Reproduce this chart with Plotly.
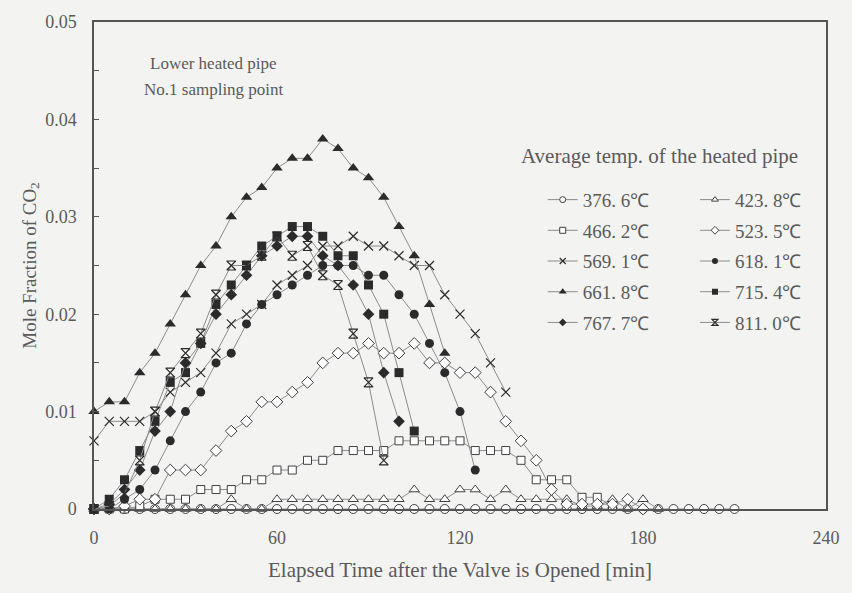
import plotly.graph_objects as go

# Sampling interval of the gas analyser [min]
STEP_MIN = 5

# Mole fraction of CO2 at the No.1 sampling point, one value every 5 min from t = 0
co2_376 = [0, 0, 0, 0, 0, 0, 0, 0, 0, 0, 0, 0, 0, 0, 0, 0, 0, 0, 0, 0, 0, 0,
           0, 0, 0, 0, 0, 0, 0, 0, 0, 0, 0, 0, 0, 0, 0, 0, 0, 0, 0, 0, 0]
co2_423 = [0, 0, 0, 0, 0, 0, 0, 0, 0, 0.001, 0, 0, 0.001, 0.001, 0.001, 0.001,
           0.001, 0.001, 0.001, 0.001, 0.001, 0.002, 0.001, 0.001, 0.002, 0.002,
           0.001, 0.002, 0.001, 0.001, 0.001, 0.001, 0.0003, 0.0003, 0.001, 0,
           0.001, 0]
co2_466 = [0, 0, 0, 0.0003, 0.001, 0.001, 0.001, 0.002, 0.002, 0.002, 0.003,
           0.003, 0.004, 0.004, 0.005, 0.005, 0.006, 0.006, 0.006, 0.006, 0.007,
           0.007, 0.007, 0.007, 0.007, 0.006, 0.006, 0.006, 0.005, 0.003, 0.003,
           0.003, 0.0012, 0.0012, 0.0003]
co2_523 = [0, 0, 0.0003, 0.001, 0.001, 0.004, 0.004, 0.004, 0.006, 0.008, 0.009,
           0.011, 0.011, 0.012, 0.013, 0.015, 0.016, 0.016, 0.017, 0.016, 0.016,
           0.017, 0.015, 0.015, 0.014, 0.014, 0.012, 0.009, 0.007, 0.005, 0.002,
           0.0005, 0.0005, 0.0005, 0.0005, 0.001, 0]
co2_569 = [0.007, 0.009, 0.009, 0.009, 0.010, 0.012, 0.013, 0.014, 0.016, 0.019,
           0.020, 0.021, 0.023, 0.024, 0.025, 0.027, 0.027, 0.028, 0.027, 0.027,
           0.026, 0.025, 0.025, 0.022, 0.020, 0.018, 0.015, 0.012]
co2_618 = [0, 0, 0.001, 0.002, 0.004, 0.007, 0.010, 0.012, 0.015, 0.016, 0.019,
           0.021, 0.022, 0.023, 0.024, 0.025, 0.025, 0.025, 0.024, 0.024, 0.022,
           0.020, 0.017, 0.014, 0.010, 0.004]
co2_661 = [0.010, 0.011, 0.011, 0.014, 0.016, 0.019, 0.022, 0.025, 0.027, 0.030,
           0.032, 0.033, 0.035, 0.036, 0.036, 0.038, 0.037, 0.035, 0.034, 0.032,
           0.029, 0.026, 0.021, 0.016]
co2_715 = [0, 0.001, 0.003, 0.006, 0.009, 0.013, 0.014, 0.017, 0.021, 0.023,
           0.025, 0.027, 0.028, 0.029, 0.029, 0.028, 0.026, 0.026, 0.023, 0.020,
           0.014, 0.008]
co2_767 = [0, 0.0005, 0.002, 0.004, 0.008, 0.010, 0.015, 0.017, 0.020, 0.022,
           0.024, 0.026, 0.027, 0.028, 0.028, 0.026, 0.025, 0.023, 0.020, 0.014,
           0.009]
co2_811 = [0, 0.0003, 0.0016, 0.005, 0.010, 0.014, 0.016, 0.018, 0.022, 0.025,
           0.025, 0.026, 0.028, 0.026, 0.027, 0.024, 0.023, 0.018, 0.013, 0.005]

temp_labels = ["376. 6℃", "423. 8℃", "466. 2℃", "523. 5℃", "569. 1℃",
               "618. 1℃", "661. 8℃", "715. 4℃", "767. 7℃", "811. 0℃"]
x_ticks = [0, 60, 120, 180, 240]

BG = "#f3f3f1"
INK = "#2b2b2b"
LINE = "#8c8c8c"
TXT = "#5a5a5a"
SERIF = "Liberation Serif"

# (values, marker symbol, filled?, marker size, legend column)
styles = [
    (co2_376, "circle", False, 9, "legend"),
    (co2_423, "triangle-up", False, 9, "legend2"),
    (co2_466, "square", False, 8, "legend"),
    (co2_523, "diamond", False, 9, "legend2"),
    (co2_569, "x-thin-open", None, 9, "legend"),
    (co2_618, "circle", True, 9, "legend2"),
    (co2_661, "triangle-up", True, 10, "legend"),
    (co2_715, "square", True, 9, "legend2"),
    (co2_767, "diamond", True, 9, "legend"),
    (co2_811, "hourglass-open", None, 9, "legend2"),
]


def marker_style(sym, filled, size):
    if filled is None:
        return dict(symbol=sym, size=size, color=INK, line=dict(color=INK, width=1.2))
    if filled:
        return dict(symbol=sym, size=size, color=INK, line=dict(color=INK, width=0))
    return dict(symbol=sym, size=size, color="white", line=dict(color="#404040", width=1))


fig = go.Figure()
for name, (vals, sym, filled, size, leg) in zip(temp_labels, styles):
    times = [i * STEP_MIN for i in range(len(vals))]
    fig.add_trace(go.Scatter(
        x=times, y=vals, name=name, mode="lines+markers",
        line=dict(color=LINE, width=1), marker=marker_style(sym, filled, size),
        legendgroup=name, showlegend=False, cliponaxis=False,
    ))
    # legend key with a smaller symbol, as in the printed key
    fig.add_trace(go.Scatter(
        x=[None], y=[None], name=name, mode="lines+markers",
        line=dict(color=LINE, width=1), marker=marker_style(sym, filled, max(size - 3, 6)),
        legend=leg, legendgroup=name, showlegend=True,
    ))

legend_common = dict(
    font=dict(family=SERIF, size=19, color=TXT),
    bgcolor="rgba(0,0,0,0)", borderwidth=0, tracegroupgap=3,
    xanchor="left", yanchor="top", itemwidth=30,
)

W, H = 852, 593
L, R, T, B = 94, 18, 19, 84
pw, ph = W - L - R, H - T - B


def page_note(text, px, py, size):
    return dict(text=text, xref="paper", yref="paper",
                x=(px - L) / pw, y=1 - (py - T) / ph,
                xanchor="center", yanchor="middle", showarrow=False,
                font=dict(family=SERIF, size=size, color=TXT))


fig.update_layout(
    width=W, height=H,
    margin=dict(l=L, r=R, t=T, b=B),
    paper_bgcolor=BG, plot_bgcolor=BG,
    font=dict(family=SERIF, color=TXT),
    legend=dict(x=0.613, y=0.674, **legend_common),
    legend2=dict(x=0.821, y=0.674, **legend_common),
    xaxis=dict(
        range=[0, 240], tickvals=x_ticks, showgrid=False, zeroline=False,
        showline=True, mirror=True, linecolor="#555", linewidth=1.5,
        ticks="", tickfont=dict(family=SERIF, size=18, color=TXT),
        ticklabelstandoff=12,
        title=dict(text="Elapsed Time after the Valve is Opened [min]",
                   font=dict(family=SERIF, size=21, color=TXT), standoff=15),
    ),
    yaxis=dict(
        range=[0, 0.05], dtick=0.01, showgrid=False, zeroline=False,
        showline=True, mirror=True, linecolor="#555", linewidth=1.5,
        ticks="inside", ticklen=5, tickcolor="#555",
        minor=dict(dtick=0.005, ticks="inside", ticklen=5, tickcolor="#555"),
        tickfont=dict(family=SERIF, size=18, color=TXT),
        ticklabelstandoff=12,
        title=dict(text="Mole Fraction of CO<sub>2</sub>",
                   font=dict(family=SERIF, size=19, color=TXT), standoff=4),
    ),
    annotations=[
        page_note("Lower heated pipe", 215, 61, 17),
        page_note("No.1 sampling point", 215, 87, 17),
        page_note("Average temp. of the heated pipe", 666, 154, 21),
    ],
)

fig.write_html("out.html")
